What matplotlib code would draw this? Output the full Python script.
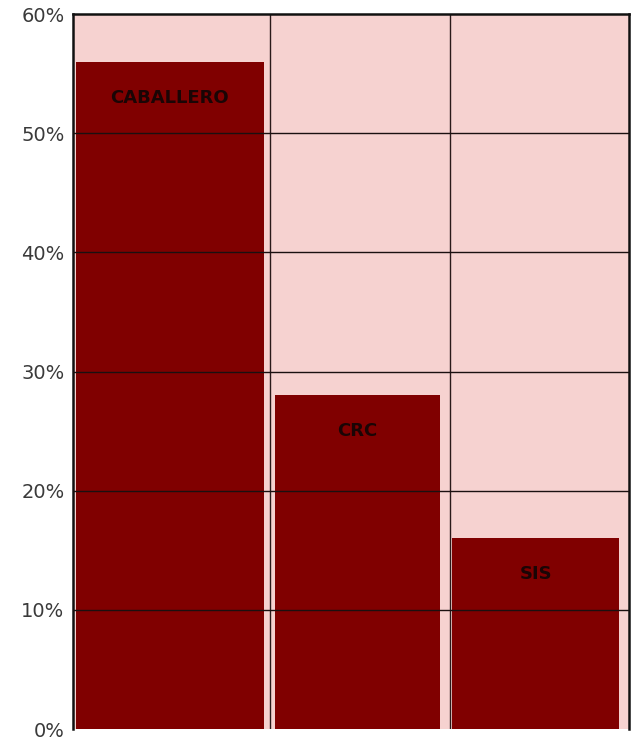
import matplotlib.pyplot as plt

categorias = ["CABALLERO", "CRC", "SIS"]
porcentajes = [56, 28, 16]
etiquetas_y = ["0%", "10%", "20%", "30%", "40%", "50%", "60%"]

fondo = "#f6d2d0"
rojo = "#800000"

fig = plt.figure(figsize=(6.34, 7.41), dpi=100)
ax = fig.add_axes([0.115, 0.016, 0.877, 0.965])
ax.set_facecolor(fondo)

centros = [-0.06, 0.985, 1.98]
anchos = [1.05, 0.92, 0.93]
ax.bar(centros, porcentajes, width=anchos, color=rojo, zorder=2)

# nombre de cada barra dentro de la barra, cerca del borde superior
for x, v, nombre in zip(centros, porcentajes, categorias):
    ax.text(x, v - 3.0, nombre, ha="center", va="center", fontsize=13,
            fontweight="heavy", color="#1a0505", zorder=4)

ax.set_xlim(-0.6, 2.5)
ax.set_ylim(0, 60)
ax.set_yticks(range(0, 61, 10))
ax.set_yticklabels(etiquetas_y, fontsize=14, color="#3a3a3a")
ax.set_xticks([])
ax.tick_params(axis="y", length=0, pad=6)

for y in range(10, 60, 10):
    ax.axhline(y, color="#1a1010", lw=1.0, zorder=3)
for x in [0.5, 1.5]:
    ax.axvline(x, color="#2a1a1a", lw=1.0, zorder=1)

for lado in ["left", "top", "right"]:
    ax.spines[lado].set_color("#111111")
    ax.spines[lado].set_linewidth(1.8)
ax.spines["bottom"].set_visible(False)

fig.savefig("out.png", dpi=100)
